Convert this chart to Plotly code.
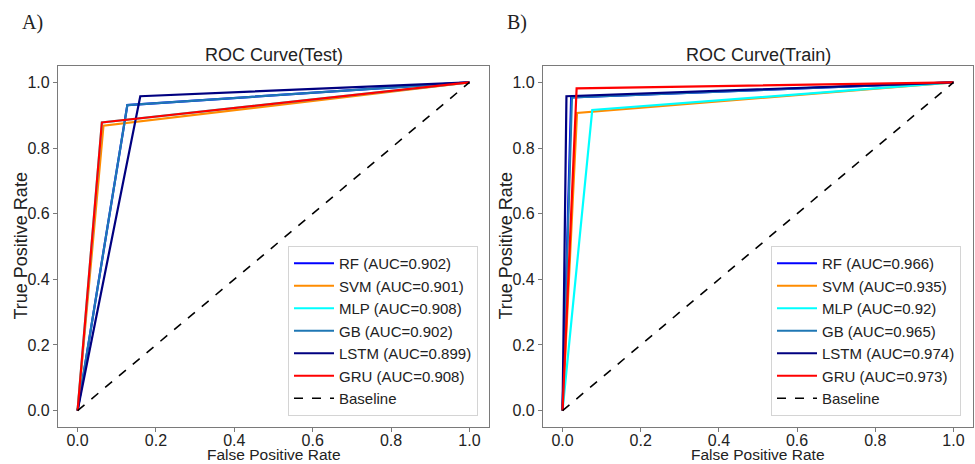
import plotly.graph_objects as go

# Model names and line colours
models = ["RF", "SVM", "MLP", "GB", "LSTM", "GRU"]
colors = ["#0000ff", "#ff8c00", "#00ffff", "#1f77b4", "#000080", "#ff0000"]

# Test set: single operating point per model (fpr, tpr) and reported AUC
test_fpr = [0.127, 0.066, 0.062, 0.127, 0.160, 0.062]
test_tpr = [0.931, 0.868, 0.878, 0.931, 0.958, 0.878]
test_auc = ["0.902", "0.901", "0.908", "0.902", "0.899", "0.908"]

# Train set
train_fpr = [0.022, 0.037, 0.076, 0.024, 0.010, 0.036]
train_tpr = [0.954, 0.907, 0.916, 0.954, 0.958, 0.982]
train_auc = ["0.966", "0.935", "0.92", "0.965", "0.974", "0.973"]

tick_vals = [0.0, 0.2, 0.4, 0.6, 0.8, 1.0]
tick_text = ["0.0", "0.2", "0.4", "0.6", "0.8", "1.0"]

W, H = 975, 464
FONT = "Arial, Liberation Sans, sans-serif"


def px_x(p):
    return p / W


def px_y(p):
    return 1 - p / H


fig = go.Figure()

panels = [
    ("x", "y", "legend", test_fpr, test_tpr, test_auc),
    ("x2", "y2", "legend2", train_fpr, train_tpr, train_auc),
]

for xa, ya, leg, fpr, tpr, auc in panels:
    for name, col, f, t, a in zip(models, colors, fpr, tpr, auc):
        fig.add_trace(go.Scatter(
            x=[0.0, f, 1.0], y=[0.0, t, 1.0], mode="lines",
            line=dict(color=col, width=2.2),
            name=f"{name} (AUC={a})", xaxis=xa, yaxis=ya, legend=leg,
        ))
    fig.add_trace(go.Scatter(
        x=[0, 1], y=[0, 1], mode="lines",
        line=dict(color="black", width=1.6, dash="dash"),
        name="Baseline", xaxis=xa, yaxis=ya, legend=leg,
    ))

axis_common = dict(
    range=[-0.05, 1.05], tickvals=tick_vals, ticktext=tick_text,
    showgrid=False, zeroline=False, showline=True, mirror=True,
    linecolor="#7a7a7a", linewidth=1.2, ticks="outside", ticklen=4,
    tickcolor="#7a7a7a", tickfont=dict(family=FONT, size=16, color="#222"),
    automargin=False, fixedrange=True,
)

left_dom = [px_x(58), px_x(489)]
right_dom = [px_x(543), px_x(973)]
y_dom = [px_y(427), px_y(66)]

legend_common = dict(
    font=dict(family=FONT, size=15, color="#222"),
    bgcolor="white", bordercolor="#d4d4d4", borderwidth=1,
    xanchor="left", yanchor="top", tracegroupgap=0, itemwidth=40,
)

fig.update_layout(
    width=W, height=H,
    margin=dict(l=0, r=0, t=0, b=0),
    plot_bgcolor="white", paper_bgcolor="white",
    xaxis=dict(domain=left_dom, anchor="y", ticklabelstandoff=-5, **axis_common),
    yaxis=dict(domain=y_dom, anchor="x", **axis_common),
    xaxis2=dict(domain=right_dom, anchor="y2", ticklabelstandoff=-5, **axis_common),
    yaxis2=dict(domain=y_dom, anchor="x2", **axis_common),
    legend=dict(x=px_x(288), y=px_y(246), **legend_common),
    legend2=dict(x=px_x(771), y=px_y(246), **legend_common),
)

annotations = []
for cx, title, letter, lx, ylx in [
    (273.5, "ROC Curve(Test)", "A)", 32, 20),
    (758, "ROC Curve(Train)", "B)", 517, 505),
]:
    annotations.append(dict(
        x=px_x(cx), y=px_y(55), xref="paper", yref="paper", text=title,
        showarrow=False, font=dict(family=FONT, size=18, color="#222"),
        xanchor="center", yanchor="middle"))
    annotations.append(dict(
        x=px_x(lx), y=px_y(23), xref="paper", yref="paper", text=letter,
        showarrow=False, font=dict(family="Times New Roman, Liberation Serif, serif",
                                   size=20, color="#222"),
        xanchor="center", yanchor="middle"))
    annotations.append(dict(
        x=px_x(cx), y=px_y(454), xref="paper", yref="paper",
        text="False Positive Rate", showarrow=False,
        font=dict(family=FONT, size=15.5, color="#222"),
        xanchor="center", yanchor="middle"))
    annotations.append(dict(
        x=px_x(ylx), y=px_y(246.5), xref="paper", yref="paper",
        text="True Positive Rate", showarrow=False, textangle=-90,
        font=dict(family=FONT, size=18, color="#222"),
        xanchor="center", yanchor="middle"))

fig.update_layout(annotations=annotations)

fig.write_html("out.html")
